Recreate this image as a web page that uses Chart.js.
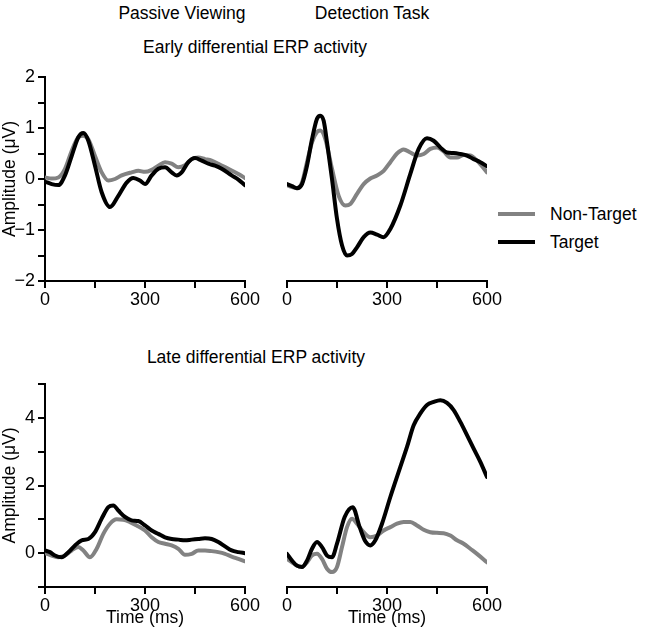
<!DOCTYPE html>
<html>
<head>
<meta charset="utf-8">
<script src="https://cdn.jsdelivr.net/npm/chart.js@4/dist/chart.umd.min.js"></script>
<style>
  body { margin: 0; background: #fff; font-family: "Liberation Sans", Arial, sans-serif; }
  #wrap { position: relative; width: 654px; height: 630px; }
  canvas { position: absolute; }
  .lbl { position: absolute; font-size: 17.5px; color: #000; white-space: nowrap; transform: translate(-50%, -50%); }
  .leg { position: absolute; font-size: 17.5px; color: #000; white-space: nowrap; transform: translateY(-50%); }
  .swatch { position: absolute; width: 37px; height: 4px; }
</style>
</head>
<body>
<div id="wrap">
  <div class="lbl" style="left:182px; top:13px;">Passive Viewing</div>
  <div class="lbl" style="left:372px; top:13px;">Detection Task</div>
  <div class="lbl" style="left:255px; top:47px;">Early differential ERP activity</div>
  <div class="lbl" style="left:256px; top:357px;">Late differential ERP activity</div>

  <div class="swatch" style="left:498px; top:212px; background:#828282;"></div>
  <div class="leg" style="left:550px; top:214px;">Non-Target</div>
  <div class="swatch" style="left:498px; top:240px; background:#000;"></div>
  <div class="leg" style="left:550px; top:242px;">Target</div>

  <canvas id="pe" width="270" height="260" style="left:0; top:60px;"></canvas>
  <canvas id="de" width="240" height="260" style="left:270px; top:60px;"></canvas>
  <canvas id="pl" width="270" height="260" style="left:0; top:370px;"></canvas>
  <canvas id="dl" width="240" height="260" style="left:270px; top:370px;"></canvas>
</div>
<script>
// passive viewing, early window
const tTargetPE = [0,20,40,60,80,100,115,130,150,170,195,220,245,265,285,300,320,340,360,380,395,410,430,450,470,490,510,530,560,580,600];
const vTargetPE = [-0.05,-0.1,-0.12,0.07,0.45,0.82,0.9,0.75,0.26,-0.26,-0.55,-0.33,-0.07,0.02,-0.03,-0.1,0.07,0.2,0.23,0.13,0.07,0.13,0.33,0.41,0.36,0.3,0.26,0.2,0.07,-0.01,-0.12];
const tNonPE = [0,20,40,60,80,100,115,130,150,170,190,210,230,260,280,300,320,340,360,380,400,420,440,460,480,500,520,550,580,600];
const vNonPE = [0.03,0.01,0.03,0.2,0.55,0.82,0.85,0.78,0.45,0.13,-0.03,0,0.07,0.13,0.16,0.14,0.18,0.26,0.33,0.3,0.23,0.27,0.39,0.42,0.39,0.36,0.3,0.2,0.1,0.02];

// detection task, early window
const tTargetDE = [0,15,30,45,60,75,90,100,110,120,135,150,165,180,195,210,230,250,270,290,310,340,370,395,420,440,460,480,500,520,540,560,580,600];
const vTargetDE = [-0.1,-0.14,-0.18,-0.1,0.26,0.78,1.18,1.24,1.14,0.72,0,-0.78,-1.3,-1.5,-1.47,-1.34,-1.14,-1.05,-1.09,-1.14,-0.98,-0.52,0.1,0.59,0.8,0.75,0.62,0.52,0.51,0.49,0.46,0.39,0.33,0.25];
const tNonDE = [0,15,30,45,60,75,90,100,115,135,155,175,190,210,230,250,270,290,310,330,350,370,390,410,430,450,470,490,510,530,550,570,600];
const vNonDE = [-0.12,-0.16,-0.18,-0.07,0.33,0.72,0.92,0.95,0.78,0.2,-0.33,-0.52,-0.49,-0.29,-0.1,0.01,0.07,0.16,0.33,0.5,0.58,0.52,0.46,0.49,0.59,0.62,0.54,0.42,0.42,0.47,0.46,0.36,0.13];

// passive viewing, late window
const tTargetPL = [0,15,30,50,70,90,110,130,150,170,190,205,220,240,260,280,300,320,340,360,380,400,420,440,460,480,500,520,540,560,580,600];
const vTargetPL = [0.08,0.03,-0.07,-0.12,0.03,0.23,0.38,0.42,0.62,1.02,1.36,1.41,1.26,1.07,0.97,0.95,0.82,0.67,0.57,0.47,0.42,0.4,0.38,0.4,0.42,0.44,0.42,0.33,0.2,0.08,0.03,0];
const tNonPL = [0,20,40,60,80,100,115,135,155,175,195,215,235,255,275,300,320,340,360,380,400,420,440,460,480,500,520,540,560,580,600];
const vNonPL = [0,-0.07,-0.12,-0.07,0.08,0.18,0.08,-0.12,0.13,0.57,0.87,1.0,0.99,0.92,0.82,0.67,0.47,0.33,0.28,0.23,0.13,-0.05,-0.02,0.08,0.08,0.06,0.03,-0.02,-0.1,-0.17,-0.24];

// detection task, late window
const tTargetDL = [0,15,30,45,60,75,90,105,120,135,150,173,197,218,235,250,265,285,310,340,360,380,400,420,440,460,480,500,520,540,560,580,600];
const vTargetDL = [-0.02,-0.22,-0.37,-0.41,-0.22,0.13,0.33,0.18,-0.07,-0.12,0.28,1.07,1.36,0.77,0.35,0.23,0.38,0.87,1.66,2.55,3.14,3.78,4.13,4.38,4.47,4.52,4.44,4.23,3.88,3.49,3.09,2.7,2.25];
const tNonDL = [0,15,30,45,60,75,90,105,120,135,150,165,180,195,210,230,250,270,290,310,330,350,370,390,410,430,450,470,490,510,530,550,570,600];
const vNonDL = [-0.17,-0.27,-0.37,-0.4,-0.27,-0.07,-0.02,-0.17,-0.46,-0.56,-0.41,0.18,0.77,1.02,0.87,0.62,0.47,0.52,0.67,0.77,0.87,0.92,0.92,0.82,0.69,0.62,0.6,0.59,0.52,0.38,0.28,0.13,-0.02,-0.27];

const xTicks = [0, 150, 300, 450, 600];
const xTickLabels = ["0", "", "300", "", "600"];

const FONT = "'Liberation Sans', Arial, sans-serif";

function pts(t, v) {
  return t.map((x, i) => ({ x: x, y: v[i] }));
}

function makePanel(id, target, nonTarget, opt) {
  const ctx = document.getElementById(id).getContext("2d");
  return new Chart(ctx, {
    type: "line",
    data: {
      datasets: [
        { label: "Target", data: target, borderColor: "#000", borderWidth: 4 },
        { label: "Non-Target", data: nonTarget, borderColor: "#828282", borderWidth: 4 },
      ],
    },
    options: {
      responsive: false,
      animation: false,
      devicePixelRatio: 1,
      layout: { padding: opt.padding },
      elements: {
        point: { radius: 0 },
        line: { cubicInterpolationMode: "monotone", borderCapStyle: "round", borderJoinStyle: "round" },
      },
      plugins: { legend: { display: false }, tooltip: { enabled: false } },
      scales: {
        x: {
          type: "linear",
          min: 0,
          max: 600,
          afterFit: (s) => { s.height = opt.xHeight; },
          afterBuildTicks: (s) => { s.ticks = xTicks.map((v) => ({ value: v })); },
          ticks: {
            color: "#000",
            padding: 1,
            maxRotation: 0,
            font: { family: FONT, size: 18 },
            callback: (v) => xTickLabels[xTicks.indexOf(v)],
          },
          grid: { drawOnChartArea: false, drawTicks: true, tickLength: 7, color: "#000", lineWidth: 2 },
          border: { display: true, color: "#000", width: 2 },
          title: {
            display: opt.xTitle,
            text: "Time (ms)",
            color: "#000",
            font: { family: FONT, size: 17.5, lineHeight: 1 },
            padding: { top: 0, bottom: 3 },
          },
        },
        y: {
          type: "linear",
          display: opt.showY,
          min: opt.yMin,
          max: opt.yMax,
          afterFit: (s) => { if (opt.showY) s.width = 45; },
          ticks: {
            stepSize: opt.yStep,
            color: "#000",
            padding: 3,
            font: { family: FONT, size: 18 },
            callback: (v) => (Math.abs(v % opt.yLabelEvery) < 1e-9 ? (v < 0 ? "\u2212" + Math.abs(v) : String(v)) : ""),
          },
          grid: { drawOnChartArea: false, drawTicks: true, tickLength: 7, color: "#000", lineWidth: 2 },
          border: { display: true, color: "#000", width: 2 },
          title: {
            display: true,
            text: "Amplitude (\u03bcV)",
            color: "#000",
            font: { family: FONT, size: 17.5, lineHeight: 1 },
            padding: { top: 1, bottom: 0 },
          },
        },
      },
    },
  });
}

const early = { yMin: -2, yMax: 2, yStep: 0.5, yLabelEvery: 1, xHeight: 39, xTitle: false };
const late = { yMin: -1, yMax: 5, yStep: 1, yLabelEvery: 2, xHeight: 43, xTitle: true };

makePanel("pe", pts(tTargetPE, vTargetPE), pts(tNonPE, vNonPE),
  Object.assign({}, early, { showY: true, padding: { top: 17, right: 25, bottom: 0, left: 0 } }));
makePanel("de", pts(tTargetDE, vTargetDE), pts(tNonDE, vNonDE),
  Object.assign({}, early, { showY: false, padding: { top: 17, right: 23, bottom: 0, left: 17 } }));
makePanel("pl", pts(tTargetPL, vTargetPL), pts(tNonPL, vNonPL),
  Object.assign({}, late, { showY: true, padding: { top: 14, right: 25, bottom: 0, left: 0 } }));
makePanel("dl", pts(tTargetDL, vTargetDL), pts(tNonDL, vNonDL),
  Object.assign({}, late, { showY: false, padding: { top: 14, right: 23, bottom: 0, left: 17 } }));
</script>
</body>
</html>
